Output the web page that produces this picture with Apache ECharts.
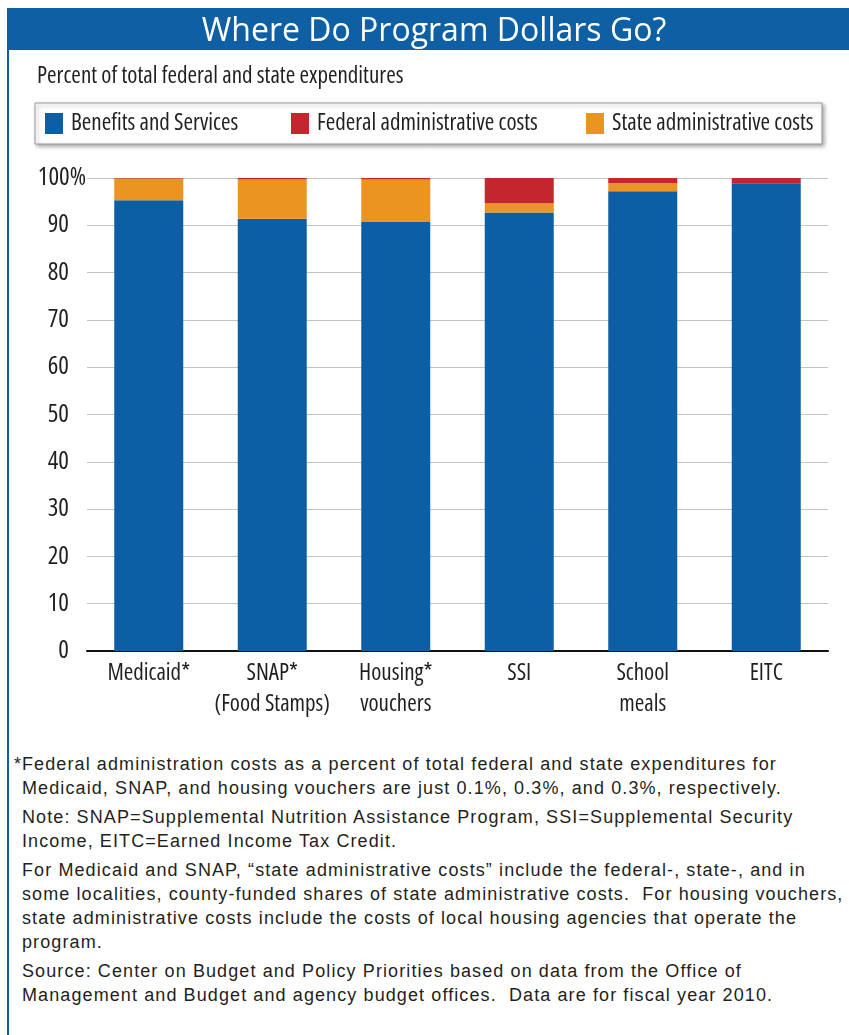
<!DOCTYPE html>
<html>
<head>
<meta charset="utf-8">
<script src="https://cdn.jsdelivr.net/npm/echarts@6/dist/echarts.min.js"></script>
<style>
  html, body { margin: 0; padding: 0; background: #fff; }
  #page { position: relative; width: 849px; height: 1035px; overflow: hidden; }
  #leftRule { position: absolute; left: 7px; top: 8px; width: 2px; height: 1027px; background: #0e5fa4; }
  #banner { position: absolute; left: 7px; top: 8px; width: 842px; height: 42px; background: #0e5fa4;
            color: #fff; font-family: "Open Sans", sans-serif;
            font-size: 32px; line-height: 42px; text-align: center; padding-left: 12px; box-sizing: border-box; }
  #chart { position: absolute; left: 0; top: 0; width: 849px; height: 740px; }
  #notes { position: absolute; left: 22px; top: 752px; width: 827px;
           font-family: "Liberation Sans", Arial, sans-serif; font-size: 18px; letter-spacing: 1.1px;
           color: #231f20; line-height: 24px; white-space: nowrap; }
  #notes p { margin: 0 0 5px 0; }
  #notes .star { position: relative; }
  #notes .star::before { content: "*"; position: absolute; left: -8px; }
</style>
</head>
<body>
<div id="page">
  <div id="chart"></div>
  <div id="leftRule"></div>
  <div id="banner">Where Do Program Dollars Go?</div>
  <div id="notes">
    <p class="star">Federal administration costs as a percent of total federal and state expenditures for<br>Medicaid, SNAP, and housing vouchers are just 0.1%, 0.3%, and 0.3%, respectively.</p>
    <p>Note: SNAP=Supplemental Nutrition Assistance Program, SSI=Supplemental Security<br>Income, EITC=Earned Income Tax Credit.</p>
    <p>For Medicaid and SNAP, “state administrative costs” include the federal-, state-, and in<br>some localities, county-funded shares of state administrative costs.&nbsp; For housing vouchers,<br>state administrative costs include the costs of local housing agencies that operate the<br>program.</p>
    <p>Source: Center on Budget and Policy Priorities based on data from the Office of<br>Management and Budget and agency budget offices.&nbsp; Data are for fiscal year 2010.</p>
  </div>
</div>
<script>
// Programs and their spending split (percent of total federal + state expenditures)
const programs = ['Medicaid*', 'SNAP*\n(Food Stamps)', 'Housing*\nvouchers', 'SSI', 'School\nmeals', 'EITC'];
const benefitsAndServices = [95.3, 91.4, 90.8, 92.7, 97.2, 98.9];
const stateAdminCosts     = [4.6, 8.3, 8.9, 2.0, 1.7, 0];
const federalAdminCosts   = [0.1, 0.3, 0.3, 5.3, 1.1, 1.1];

// Condensed face: the stretch keyword lands in the canvas font string via fontWeight
const FAMILY = '"Open Sans"';
const STRETCH = 'condensed';
const INK = '#231f20';
const BLUE = '#0c5fa5';
const RED = '#c1272d';
const ORANGE = '#ec9422';

const narrow = size => ({ fontFamily: FAMILY, fontWeight: STRETCH, fontSize: size, color: INK });

const chart = echarts.init(document.getElementById('chart'), null, { renderer: 'canvas' });

function legendItem(name, left) {
  return {
    data: [name], left: left, top: 112, itemWidth: 18, itemHeight: 21, itemGap: 0,
    icon: 'rect', padding: 0, selectedMode: false,
    textStyle: Object.assign(narrow(23), { padding: [0, 0, 0, 3] })
  };
}

chart.setOption({
  animation: false,
  textStyle: { fontFamily: FAMILY, fontWeight: STRETCH },
  graphic: [
    { type: 'text', x: 37, y: 76,
      style: { text: 'Percent of total federal and state expenditures',
               font: STRETCH + ' 23px ' + FAMILY, fill: INK, verticalAlign: 'middle' } },
    { type: 'rect', shape: { x: 35, y: 103, width: 787, height: 41 }, z: -1,
      style: { fill: '#fff', stroke: '#9a9a9a', lineWidth: 1,
               shadowBlur: 4, shadowOffsetX: 2, shadowOffsetY: 2, shadowColor: 'rgba(0,0,0,0.35)' } }
  ],
  legend: [
    legendItem('Benefits and Services', 45),
    legendItem('Federal administrative costs', 291),
    legendItem('State administrative costs', 586)
  ],
  grid: { left: 87, right: 21, top: 178, height: 473 },
  xAxis: {
    type: 'category', data: programs,
    axisTick: { show: false },
    axisLine: { lineStyle: { color: '#111', width: 2 } },
    axisLabel: Object.assign(narrow(23), { interval: 0, lineHeight: 31, margin: 7 })
  },
  yAxis: {
    type: 'value', min: 0, max: 100, interval: 10,
    axisLine: { show: false }, axisTick: { show: false },
    splitLine: { lineStyle: { color: '#c3c3c3', width: 1 } },
    axisLabel: {
      margin: 1,
      formatter: v => v === 100 ? '{p|100%}' : '{n|' + v + '}',
      rich: {
        p: narrow(25),
        n: Object.assign(narrow(25), { padding: [0, 17, 0, 0] })
      }
    }
  },
  series: [
    { name: 'Benefits and Services', type: 'bar', stack: 'total', data: benefitsAndServices,
      barWidth: 69, itemStyle: { color: BLUE } },
    { name: 'State administrative costs', type: 'bar', stack: 'total', data: stateAdminCosts,
      barWidth: 69, itemStyle: { color: ORANGE } },
    { name: 'Federal administrative costs', type: 'bar', stack: 'total', data: federalAdminCosts,
      barWidth: 69, itemStyle: { color: RED } }
  ]
});
</script>
</body>
</html>
